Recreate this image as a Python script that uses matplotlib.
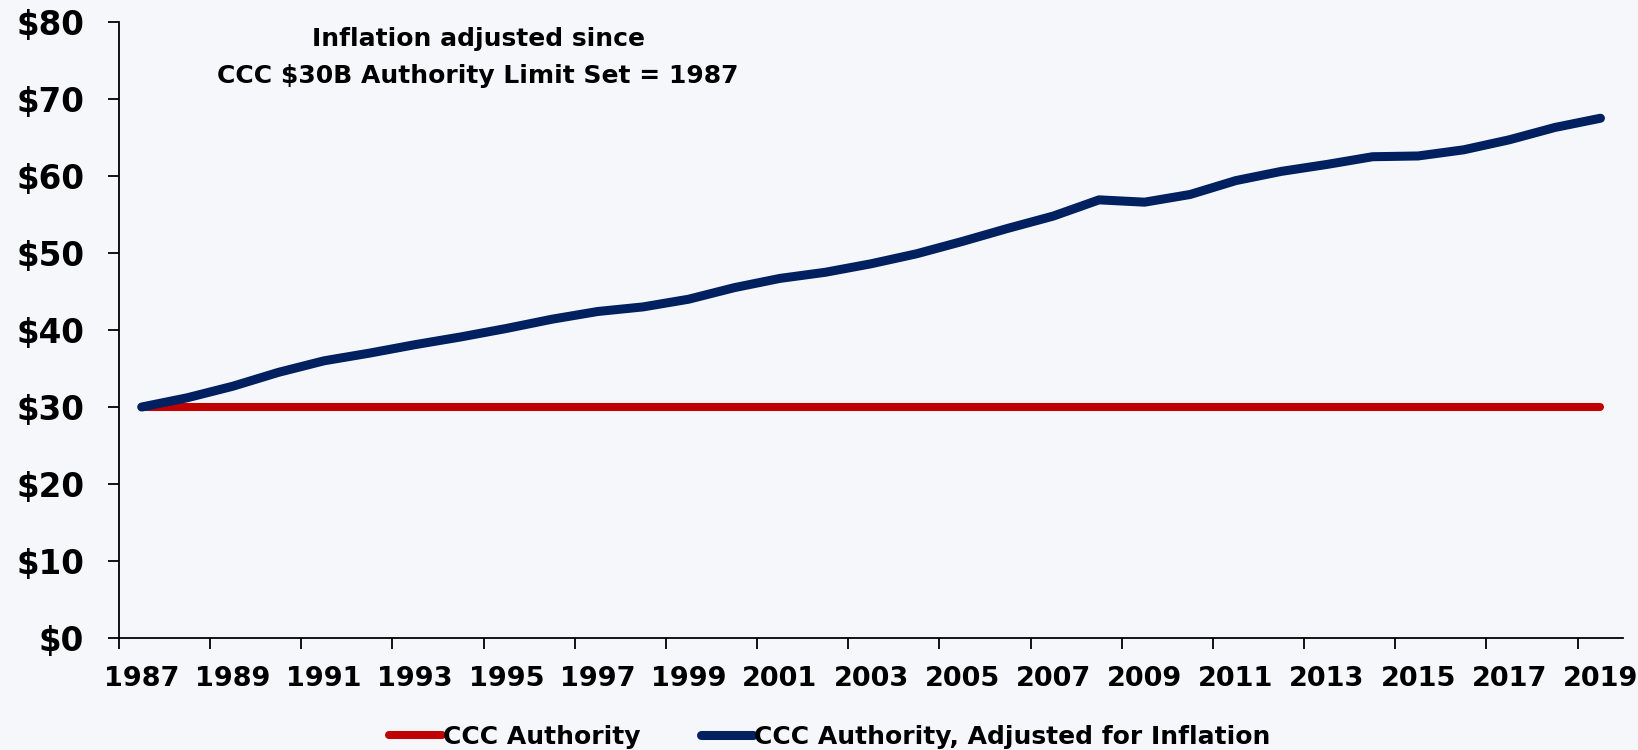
import numpy as np
import matplotlib.pyplot as plt
from matplotlib.ticker import FixedLocator, FuncFormatter

years = list(range(1987, 2020))
authority = [30] * len(years)
adjusted = [30.0, 31.2, 32.7, 34.5, 36.0, 37.0, 38.1, 39.1, 40.2, 41.4,
            42.4, 43.0, 44.0, 45.5, 46.7, 47.5, 48.6, 49.9, 51.5, 53.2,
            54.8, 56.9, 56.6, 57.6, 59.4, 60.6, 61.5, 62.5, 62.6, 63.4,
            64.7, 66.3, 67.5]
y_ticks = [0, 10, 20, 30, 40, 50, 60, 70, 80]

bg = '#f6f7fb'
plt.rcParams['font.family'] = ['DejaVu Sans']
plt.rcParams['font.weight'] = 'bold'

fig = plt.figure(figsize=(16.38, 7.5), dpi=100, facecolor=bg)
ax = fig.add_axes([0.0726, 0.1493, 0.9184, 0.8214], facecolor=bg)

x = np.arange(len(years))
ax.plot(x, authority, color='#c00000', linewidth=5.8, solid_capstyle='round',
        label='CCC Authority')
ax.plot(x, adjusted, color='#002060', linewidth=6.5, solid_capstyle='round',
        solid_joinstyle='round', label='CCC Authority, Adjusted for Inflation')

ax.set_xlim(-0.5, len(years) - 0.5)
ax.set_ylim(0, 80)

# category axis: ticks between categories, labels every other year
ax.xaxis.set_major_locator(FixedLocator(np.arange(-0.5, len(years) - 1, 2)))
ax.xaxis.set_major_formatter(FuncFormatter(lambda v, p: ''))
ax.xaxis.set_minor_locator(FixedLocator(x[::2]))
ax.set_xticklabels([str(y) for y in years[::2]], minor=True)
ax.tick_params(axis='x', which='major', direction='out', length=8, width=1.3)
ax.tick_params(axis='x', which='minor', length=0, pad=20, labelsize=19.5)

ax.set_yticks(y_ticks)
ax.set_yticklabels(['$%d' % v for v in y_ticks])
ax.tick_params(axis='y', direction='out', length=8, width=1.3, pad=17, labelsize=23.5)

for s in ['top', 'right']:
    ax.spines[s].set_visible(False)
for s in ['left', 'bottom']:
    ax.spines[s].set_linewidth(1.3)

fig.text(478 / 1638, 1 - 39 / 750, 'Inflation adjusted since', ha='center', va='center',
         fontsize=18, fontweight='bold')
fig.text(478 / 1638, 1 - 76 / 750, 'CCC $30B Authority Limit Set = 1987', ha='center',
         va='center', fontsize=18, fontweight='bold')

fig.legend(loc='center', bbox_to_anchor=(830 / 1638, 1 - 737 / 750), ncol=2, frameon=False,
           fontsize=18, handlelength=2.1, handletextpad=0.05, columnspacing=2.4)

fig.savefig('out.png', dpi=100, facecolor=bg)
